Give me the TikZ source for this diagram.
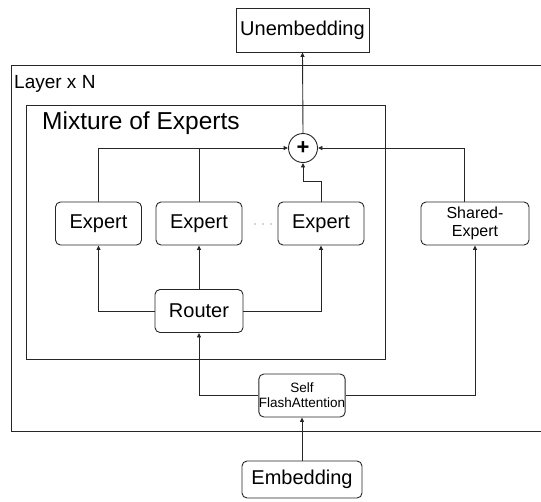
\documentclass[tikz,border=0pt]{standalone}
\usepackage{fontspec}
\setmainfont{Liberation Sans}
\usetikzlibrary{arrows.meta,calc}
\begin{document}
\begin{tikzpicture}[x=1pt,y=-1pt,
  line/.style={draw=black!85, line width=0.9pt},
  arr/.style={line, -{Triangle[length=4.5pt,width=4pt]}},
  block/.style={draw=black!85, line width=0.9pt, rounded corners=5pt,
    minimum width=86pt, minimum height=43pt, inner sep=0pt, align=center,
    font=\fontsize{20}{22}\selectfont},
  frame/.style={draw=black!85, line width=0.9pt},
]
\useasboundingbox (0,0) rectangle (541,501);

% outer layer frame (open on the right)
\draw[frame] (541,65) -- (11,65) -- (11,431) -- (541,431);
\node[anchor=north west, inner sep=0pt, font=\fontsize{19}{21}\selectfont] (layerlbl) at (14,75) {Layer x N};

% mixture-of-experts frame
\draw[frame] (26,105) rectangle (385,359);
\node[anchor=north west, inner sep=0pt, font=\fontsize{24.5}{26}\selectfont] (moelbl) at (42,112) {Mixture of Experts};

% blocks
\node[block, rounded corners=0pt, minimum width=133pt, minimum height=44pt] (unemb) at (302.5,30) {Unembedding};
\node[draw=black!85, line width=0.9pt, circle, minimum size=29pt, inner sep=0pt,
      font=\fontsize{22}{22}\selectfont\bfseries] (plus) at (303,148) {+};
\node[block] (e1) at (98.5,223.5) {Expert};
\node[block] (e2) at (199,223.5) {Expert};
\node[block] (e3) at (321,223.5) {Expert};
\node[block, minimum width=108pt, font=\fontsize{16}{18}\selectfont] (shared) at (475,223.5) {Shared-\\Expert};
\node[block, minimum width=88pt] (router) at (199,311) {Router};
\node[block, font=\fontsize{13.5}{15}\selectfont] (attn) at (302,395.5) {Self\\FlashAttention};
\node[block, minimum width=120pt, minimum height=37pt] (emb) at (302,479.5) {Embedding};

% ellipsis between experts
\foreach \dx in {255,263,271} \fill[black!70] (\dx,224) circle (0.7);

% connectors
\draw[arr] (emb.north) -- (attn.south);
\draw[arr] (attn.west) -| (router.south);
\draw[arr] (attn.east) -| (shared.south);
\draw[arr] (router.west) -| (e1.south);
\draw[arr] (router.north) -- (e2.south);
\draw[arr] (router.east) -| (e3.south);
\draw[arr] (e1.north) |- (plus.west);
\draw[line] (e2.north) -- (e2.north |- plus.west);
\draw[arr] (e3.north) -- ++(0,-20) -| (plus.south);
\draw[arr] ([xshift=-11pt]shared.north) |- (plus.east);
\draw[arr] (plus.north) -- (unemb.south);
\end{tikzpicture}
\end{document}
